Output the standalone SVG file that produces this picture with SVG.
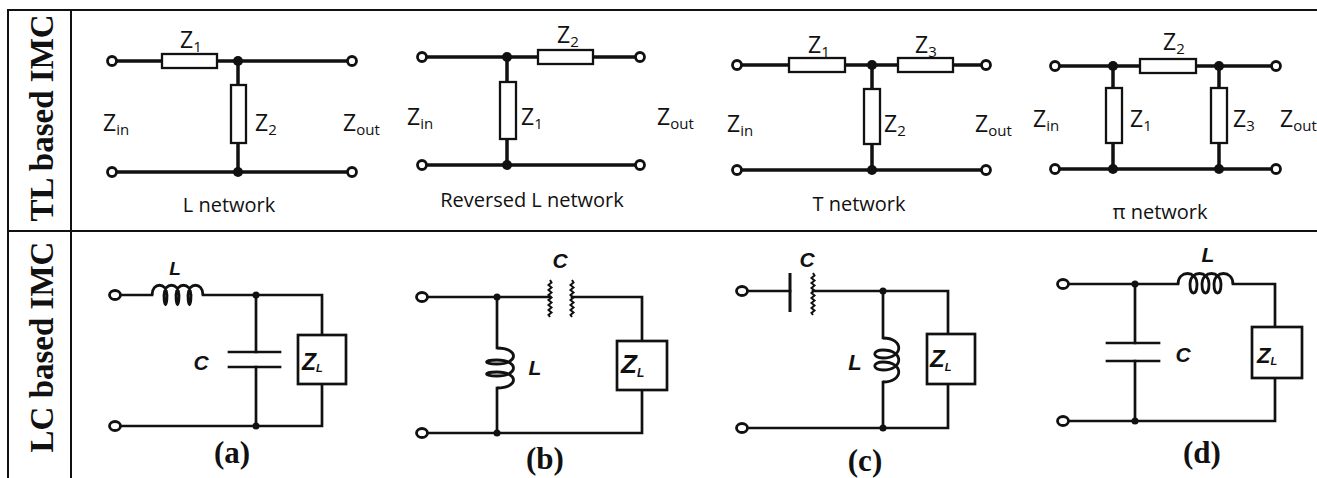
<svg xmlns="http://www.w3.org/2000/svg" width="1317" height="478" viewBox="0 0 1317 478">
<style>
.grid{stroke:#111;stroke-width:2;fill:none}
.w{stroke:#111;stroke-width:3.5;fill:none;stroke-linecap:square}
.w2{stroke:#111;stroke-width:2.7;fill:none;stroke-linecap:square}
.res{fill:#fff;stroke:#111;stroke-width:2.3}
.dot{fill:#111}
.term{fill:#fff;stroke:#111;stroke-width:2.8}
.coil{fill:none;stroke:#111;stroke-width:2.8;stroke-linejoin:round}
.fz{fill:none;stroke:#111;stroke-width:2}
.box{fill:#fff;stroke:#111;stroke-width:2.7}
.tl{font-family:"Open Sans","Noto Sans",sans-serif;fill:#111}
.z{font-size:23px}
.sub{font-size:15px}
.cap{font-size:20px;text-anchor:middle}
.lc{font-family:"Liberation Sans",Arial,sans-serif;font-weight:bold;font-style:italic;fill:#111}
.row{font-family:"Liberation Serif","Times New Roman",serif;font-weight:bold;font-size:33px;fill:#111;text-anchor:middle}
.fig{font-family:"Liberation Serif","Times New Roman",serif;font-weight:bold;font-size:31px;fill:#111;text-anchor:middle}
</style>

<g id="table">
<line class="grid" x1="8" y1="10" x2="1317" y2="10"/>
<line class="grid" x1="8" y1="231" x2="1317" y2="231"/>
<line class="grid" x1="8" y1="9" x2="8" y2="478"/>
<line class="grid" x1="71" y1="9" x2="71" y2="478"/>
<text class="row" transform="translate(53,118) rotate(-90)">TL based IMC</text>
<text class="row" transform="translate(53,347) rotate(-90)">LC based IMC</text>
</g>

<g id="connectors">
<path class="w" d="M112,61 H352 M238,61 V172 M112,172 H352"/>
<path class="w" d="M422,57 H640 M507,57 V165 M422,165 H640"/>
<path class="w" d="M737,65 H986 M872,65 V170 M737,170 H986"/>
<path class="w" d="M1055,66 H1276 M1113,66 V169 M1219,66 V169 M1055,169 H1276"/>
<path class="w2" d="M120,295 H152 M203,295 H322 V335 M322,384 V426 H120 M256,295 V352 M256,367 V426"/>
<path class="w2" d="M427,297 H550 M572,297 H642 V341 M642,390 V433 H427 M497,297 V348 M497,388 V433"/>
<path class="w2" d="M747,291 H790 M813,291 H948 V334 M948,384 V428 H747 M883,291 V338 M883,382 V428"/>
<path class="w2" d="M1068,284 H1178 M1233,284 H1275 V327 M1275,378 V421 H1068 M1135,284 V343 M1135,361 V421"/>
</g>

<g id="L-network">
<rect class="res" x="162" y="54" width="55" height="14"/>
<rect class="res" x="231" y="85" width="15" height="58"/>
<circle class="dot" cx="238" cy="61" r="5"/>
<circle class="dot" cx="238" cy="172" r="5"/>
<circle class="term" cx="112" cy="61" r="4.5"/>
<circle class="term" cx="352" cy="61" r="4.5"/>
<circle class="term" cx="112" cy="172" r="4.5"/>
<circle class="term" cx="352" cy="172" r="4.5"/>
<text class="tl z" x="180" y="48">Z<tspan class="sub" dy="4">1</tspan></text>
<text class="tl z" x="103" y="131">Z<tspan class="sub" dy="4">in</tspan></text>
<text class="tl z" x="255" y="131">Z<tspan class="sub" dy="4">2</tspan></text>
<text class="tl z" x="343" y="131">Z<tspan class="sub" dy="4">out</tspan></text>
<text class="tl cap" x="229" y="212">L network</text>
</g>

<g id="reversed-L-network">
<rect class="res" x="538" y="50" width="55" height="14"/>
<rect class="res" x="500" y="82" width="16" height="57"/>
<circle class="dot" cx="507" cy="57" r="5"/>
<circle class="dot" cx="507" cy="165" r="5"/>
<circle class="term" cx="422" cy="57" r="4.5"/>
<circle class="term" cx="640" cy="57" r="4.5"/>
<circle class="term" cx="422" cy="165" r="4.5"/>
<circle class="term" cx="640" cy="165" r="4.5"/>
<text class="tl z" x="557" y="43">Z<tspan class="sub" dy="4">2</tspan></text>
<text class="tl z" x="407" y="125">Z<tspan class="sub" dy="4">in</tspan></text>
<text class="tl z" x="521" y="125">Z<tspan class="sub" dy="4">1</tspan></text>
<text class="tl z" x="657" y="125">Z<tspan class="sub" dy="4">out</tspan></text>
<text class="tl cap" x="532" y="207">Reversed L network</text>
</g>

<g id="T-network">
<rect class="res" x="789" y="58" width="56" height="14"/>
<rect class="res" x="898" y="58" width="55" height="14"/>
<rect class="res" x="864" y="89" width="16" height="55"/>
<circle class="dot" cx="872" cy="65" r="5"/>
<circle class="dot" cx="872" cy="170" r="5"/>
<circle class="term" cx="737" cy="65" r="4.5"/>
<circle class="term" cx="986" cy="65" r="4.5"/>
<circle class="term" cx="737" cy="170" r="4.5"/>
<circle class="term" cx="986" cy="170" r="4.5"/>
<text class="tl z" x="808" y="53">Z<tspan class="sub" dy="4">1</tspan></text>
<text class="tl z" x="915" y="53">Z<tspan class="sub" dy="4">3</tspan></text>
<text class="tl z" x="727" y="132">Z<tspan class="sub" dy="4">in</tspan></text>
<text class="tl z" x="884" y="132">Z<tspan class="sub" dy="4">2</tspan></text>
<text class="tl z" x="975" y="132">Z<tspan class="sub" dy="4">out</tspan></text>
<text class="tl cap" x="859" y="211">T network</text>
</g>

<g id="pi-network">
<rect class="res" x="1140" y="59" width="56" height="14"/>
<rect class="res" x="1106" y="88" width="16" height="55"/>
<rect class="res" x="1211" y="88" width="16" height="55"/>
<circle class="dot" cx="1113" cy="66" r="5"/>
<circle class="dot" cx="1219" cy="66" r="5"/>
<circle class="dot" cx="1113" cy="169" r="5"/>
<circle class="dot" cx="1219" cy="169" r="5"/>
<circle class="term" cx="1055" cy="66" r="4.5"/>
<circle class="term" cx="1276" cy="66" r="4.5"/>
<circle class="term" cx="1055" cy="169" r="4.5"/>
<circle class="term" cx="1276" cy="169" r="4.5"/>
<text class="tl z" x="1163" y="50">Z<tspan class="sub" dy="4">2</tspan></text>
<text class="tl z" x="1033" y="127">Z<tspan class="sub" dy="4">in</tspan></text>
<text class="tl z" x="1130" y="127">Z<tspan class="sub" dy="4">1</tspan></text>
<text class="tl z" x="1233" y="127">Z<tspan class="sub" dy="4">3</tspan></text>
<text class="tl z" x="1280" y="127">Z<tspan class="sub" dy="4">out</tspan></text>
<text class="tl cap" x="1160" y="219">π network</text>
</g>

<g id="circuit-a">
<path class="coil" d="M152,295 C152,282 167,282 167,295 C167,308 164,308 164,295 C164,282 179,282 179,295 C179,308 176,308 176,295 C176,282 191,282 191,295 C191,308 188,308 188,295 C188,282 203,282 203,295"/>
<line class="w2" x1="229" y1="352" x2="280" y2="352"/>
<line class="w2" x1="229" y1="367" x2="280" y2="367"/>
<rect class="box" x="298" y="335" width="48" height="49"/>
<circle class="dot" cx="256" cy="295" r="3.5"/>
<circle class="dot" cx="256" cy="426" r="3.5"/>
<ellipse class="term" cx="115" cy="295" rx="5.5" ry="4.5"/>
<ellipse class="term" cx="115" cy="426" rx="5.5" ry="4.5"/>
<text class="lc" x="175" y="275" font-size="19" text-anchor="middle">L</text>
<text class="lc" x="201" y="370" font-size="21" text-anchor="middle">C</text>
<text class="lc" x="302" y="370" font-size="23">Z<tspan font-size="11" dy="2">L</tspan></text>
<text class="fig" x="232" y="463">(a)</text>
</g>

<g id="circuit-b">
<path class="coil" d="M497,348 C519,348 519,364 497,364 C483,364 483,360 497,360 C519,360 519,376 497,376 C483,376 483,372 497,372 C519,372 519,388 497,388"/>
<path class="fz" d="M550,280 l1.5,2.5 l-3,2.5 l3,2.5 l-3,2.5 l3,2.5 l-3,2.5 l3,2.5 l-3,2.5 l3,2.5 l-3,2.5 l3,2.5 l-3,2.5 l3,2.5 l-3,2.5 l1.5,2"/>
<path class="fz" d="M572,280 l1.5,2.5 l-3,2.5 l3,2.5 l-3,2.5 l3,2.5 l-3,2.5 l3,2.5 l-3,2.5 l3,2.5 l-3,2.5 l3,2.5 l-3,2.5 l3,2.5 l-3,2.5 l1.5,2"/>
<rect class="box" x="617" y="341" width="50" height="49"/>
<circle class="dot" cx="497" cy="297" r="3.5"/>
<circle class="dot" cx="497" cy="433" r="3.5"/>
<ellipse class="term" cx="422" cy="297" rx="5.5" ry="4.5"/>
<ellipse class="term" cx="422" cy="433" rx="5.5" ry="4.5"/>
<text class="lc" x="560" y="268" font-size="21" text-anchor="middle">C</text>
<text class="lc" x="535" y="375" font-size="21" text-anchor="middle">L</text>
<text class="lc" x="621" y="373" font-size="26">Z<tspan font-size="12" dy="4">L</tspan></text>
<text class="fig" x="545" y="469">(b)</text>
</g>

<g id="circuit-c">
<line x1="790" y1="273" x2="790" y2="312" stroke="#111" stroke-width="3"/>
<path class="fz" d="M813,273 l1.5,2.5 l-3,2.5 l3,2.5 l-3,2.5 l3,2.5 l-3,2.5 l3,2.5 l-3,2.5 l3,2.5 l-3,2.5 l3,2.5 l-3,2.5 l3,2.5 l-3,2.5 l3,2.5 l-3,2.5 l1.5,2"/>
<path class="coil" d="M883,338 C904,338 904,358 883,358 C872,358 872,350 883,350 C904,350 904,370 883,370 C872,370 872,362 883,362 C904,362 904,382 883,382"/>
<rect class="box" x="927" y="334" width="48" height="50"/>
<circle class="dot" cx="883" cy="291" r="3.5"/>
<circle class="dot" cx="883" cy="428" r="3.5"/>
<ellipse class="term" cx="742" cy="291" rx="5.5" ry="4.5"/>
<ellipse class="term" cx="742" cy="428" rx="5.5" ry="4.5"/>
<text class="lc" x="807" y="267" font-size="21" text-anchor="middle">C</text>
<text class="lc" x="855" y="370" font-size="22" text-anchor="middle">L</text>
<text class="lc" x="930" y="367" font-size="24">Z<tspan font-size="11" dy="4">L</tspan></text>
<text class="fig" x="865" y="471">(c)</text>
</g>

<g id="circuit-d">
<path class="coil" d="M1178,284 C1178,270 1197,270 1197,284 C1197,296 1190,296 1190,284 C1190,270 1209,270 1209,284 C1209,296 1202,296 1202,284 C1202,270 1221,270 1221,284 C1221,296 1214,296 1214,284 C1214,270 1233,270 1233,284"/>
<line class="w2" x1="1107" y1="343" x2="1159" y2="343"/>
<line class="w2" x1="1107" y1="361" x2="1159" y2="361"/>
<rect class="box" x="1252" y="327" width="50" height="51"/>
<circle class="dot" cx="1135" cy="284" r="3.5"/>
<circle class="dot" cx="1135" cy="421" r="3.5"/>
<ellipse class="term" cx="1063" cy="284" rx="5.5" ry="4.5"/>
<ellipse class="term" cx="1063" cy="421" rx="5.5" ry="4.5"/>
<text class="lc" x="1208" y="262" font-size="21" text-anchor="middle">L</text>
<text class="lc" x="1183" y="362" font-size="21" text-anchor="middle">C</text>
<text class="lc" x="1257" y="363" font-size="22">Z<tspan font-size="11" dy="2">L</tspan></text>
<text class="fig" x="1202" y="463">(d)</text>
</g>
</svg>
